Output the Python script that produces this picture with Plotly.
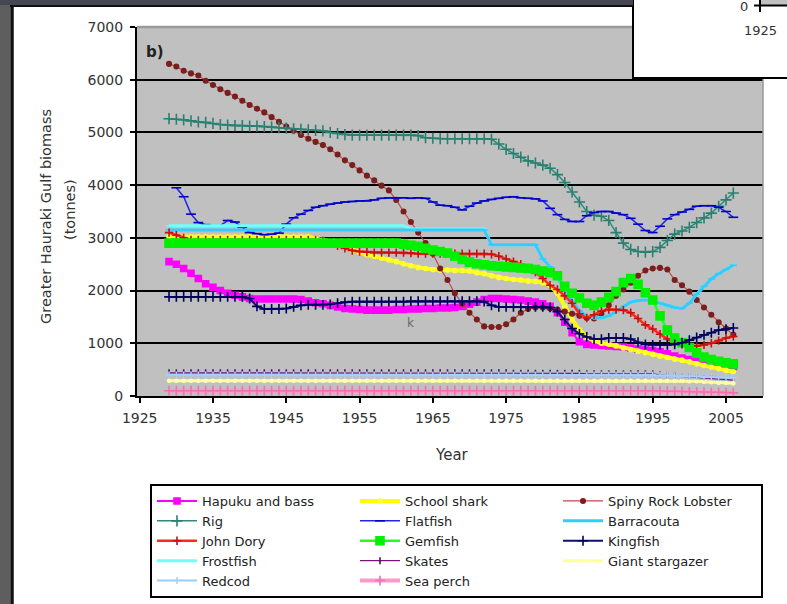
import plotly.graph_objects as go

years = list(range(1929, 2007))

hapuku = [2550, 2500, 2420, 2330, 2230, 2130, 2060, 2000, 1950, 1910,
          1880, 1850, 1840, 1840, 1840, 1840, 1840, 1840, 1830, 1800,
          1770, 1750, 1720, 1690, 1660, 1650, 1640, 1630, 1630, 1630,
          1630, 1640, 1640, 1650, 1650, 1660, 1660, 1670, 1670, 1680,
          1700, 1740, 1780, 1830, 1850, 1850, 1840, 1830, 1820, 1800,
          1780, 1750, 1700, 1580, 1400, 1200, 1030, 980, 970, 960,
          950, 940, 930, 910, 890, 870, 860, 840, 800, 760,
          720, 690, 660, 640, 620, 600, 580, 560]

school_shark = [3020, 3020, 3020, 3020, 3020, 3020, 3020, 3020, 3020, 3020,
                3020, 3020, 3020, 3020, 3020, 3020, 3020, 3020, 3020, 3020,
                2990, 2960, 2920, 2870, 2820, 2770, 2720, 2680, 2650, 2620,
                2580, 2550, 2510, 2470, 2440, 2420, 2400, 2390, 2390, 2380,
                2380, 2370, 2340, 2320, 2280, 2250, 2230, 2210, 2200, 2180,
                2170, 2150, 2100, 1950, 1700, 1450, 1250, 1120, 1050, 1000,
                980, 950, 910, 880, 850, 820, 790, 760, 730, 700,
                680, 650, 610, 580, 550, 520, 490, 460]

lobster = [6300, 6250, 6170, 6120, 6080, 5980, 5900, 5820, 5750, 5680,
           5600, 5520, 5450, 5380, 5290, 5200, 5110, 5030, 4950, 4880,
           4820, 4760, 4680, 4580, 4470, 4380, 4280, 4180, 4090, 3990,
           3900, 3720, 3500, 3300, 3100, 2900, 2700, 2420, 2200, 1950,
           1750, 1580, 1450, 1320, 1310, 1310, 1360, 1450, 1580, 1650,
           1680, 1680, 1660, 1640, 1600, 1560, 1520, 1480, 1470, 1560,
           1720, 1900, 2020, 2150, 2280, 2380, 2420, 2430, 2400, 2200,
           2100, 1980, 1820, 1680, 1540, 1400, 1280, 1160]

rig = [5260, 5250, 5240, 5220, 5200, 5190, 5170, 5150, 5140, 5130,
       5130, 5120, 5120, 5110, 5100, 5090, 5080, 5070, 5060, 5050,
       5040, 5030, 5000, 4980, 4960, 4950, 4950, 4950, 4950, 4950,
       4950, 4950, 4950, 4950, 4940, 4900, 4890, 4880, 4880, 4880,
       4880, 4880, 4880, 4880, 4870, 4780, 4680, 4600, 4530, 4460,
       4420, 4380, 4320, 4200, 4050, 3870, 3680, 3500, 3430, 3410,
       3330, 3100, 2900, 2780, 2740, 2730, 2740, 2820, 2950, 3070,
       3130, 3200, 3290, 3380, 3470, 3600, 3720, 3850]

flatfish = [None, 3950, 3780, 3450, 3290, 3250, 3230, 3230, 3330, 3300,
            3200, 3100, 3080, 3060, 3070, 3090, 3260, 3380, 3450, 3520,
            3580, 3610, 3640, 3660, 3680, 3690, 3700, 3700, 3720, 3750,
            3760, 3760, 3760, 3750, 3760, 3750, 3680, 3620, 3610, 3580,
            3530, 3600, 3660, 3700, 3730, 3750, 3770, 3780, 3760, 3750,
            3740, 3700, 3560, 3440, 3350, 3310, 3310, 3420, 3480, 3500,
            3500, 3470, 3440, 3370, 3260, 3140, 3100, 3220, 3360, 3440,
            3490, 3540, 3600, 3610, 3610, 3580, 3500, 3390]

barracouta = [3150, 3150, 3150, 3150, 3150, 3150, 3150, 3150, 3150, 3150,
              3150, 3150, 3150, 3150, 3150, 3150, 3150, 3150, 3150, 3150,
              3150, 3150, 3150, 3150, 3150, 3150, 3150, 3150, 3150, 3150,
              3150, 3150, 3150, 3150, 3150, 3150, 3150, 3150, 3150, 3150,
              3150, 3150, 3150, 3150, 2870, 2870, 2870, 2870, 2870, 2870,
              2870, 2600, 2450, 2250, 2000, 1800, 1620, 1520, 1480, 1480,
              1520, 1600, 1700, 1780, 1810, 1820, 1800, 1760, 1720, 1680,
              1660, 1760, 1930, 2080, 2220, 2320, 2400, 2480]

john_dory = [3100, 3050, 3000, 2960, 2960, 2960, 2960, 2960, 2960, 2960,
             2960, 2960, 2960, 2960, 2960, 2960, 2960, 2960, 2960, 2960,
             2960, 2940, 2900, 2850, 2800, 2760, 2740, 2730, 2720, 2720,
             2720, 2720, 2720, 2710, 2700, 2700, 2700, 2700, 2700, 2700,
             2700, 2700, 2700, 2700, 2690, 2650, 2600, 2550, 2500, 2430,
             2350, 2230, 2100, 2020, 1900, 1760, 1560, 1480, 1540, 1610,
             1640, 1640, 1630, 1580, 1470, 1350, 1270, 1170, 1080, 1020,
             980, 960, 950, 970, 1000, 1050, 1100, 1130]

gemfish = [2900, 2900, 2900, 2900, 2900, 2900, 2900, 2900, 2900, 2900,
           2900, 2900, 2900, 2900, 2900, 2900, 2900, 2900, 2900, 2900,
           2900, 2900, 2900, 2900, 2900, 2900, 2900, 2900, 2900, 2900,
           2900, 2900, 2880, 2860, 2840, 2800, 2770, 2740, 2710, 2650,
           2590, 2540, 2510, 2490, 2470, 2460, 2450, 2440, 2430, 2420,
           2400, 2370, 2340, 2280, 2080, 1950, 1860, 1760, 1720, 1780,
           1870, 1980, 2150, 2230, 2120, 1960, 1820, 1520, 1250, 1100,
           1010, 920, 820, 740, 690, 660, 630, 610]

kingfish = [1880, 1880, 1880, 1880, 1880, 1880, 1880, 1880, 1880, 1880,
            1880, 1850, 1700, 1650, 1650, 1650, 1660, 1690, 1720, 1730,
            1730, 1730, 1740, 1760, 1780, 1790, 1790, 1790, 1790, 1790,
            1790, 1790, 1790, 1800, 1800, 1800, 1800, 1800, 1800, 1800,
            1800, 1800, 1800, 1790, 1720, 1690, 1690, 1690, 1690, 1690,
            1690, 1690, 1680, 1600, 1450, 1280, 1180, 1120, 1080, 1080,
            1100, 1100, 1100, 1080, 1020, 980, 970, 970, 970, 980,
            1010, 1060, 1110, 1160, 1200, 1250, 1270, 1290]

frostfish = [3230, 3230, 3230, 3230, 3230, 3230, 3230, 3230, 3230, 3230,
             3230, 3230, 3230, 3230, 3230, 3230, 3230, 3230, 3230, 3230,
             3230, 3230, 3230, 3230, 3230, 3230, 3230, 3230, 3230, 3230,
             3230, 3230, 3230, 3170, 3170, 3170, 3170, 3170, 3170, 3170,
             3170, 3170, 3170, 3170, 2870, 2870, 2870, 2870, 2870, 2870,
             2870, 2600, 2450, 2250, 2000, 1800, 1620, 1520, 1480, 1480,
             1520, 1600, 1700, 1780, 1810, 1820, 1800, 1760, 1720, 1680,
             1660, 1760, 1930, 2080, 2220, 2320, 2400, 2480]

skates = [440, 440, 440, 440, 440, 440, 440, 440, 440, 440,
          440, 440, 440, 440, 440, 440, 440, 440, 440, 440,
          440, 440, 440, 440, 440, 440, 440, 440, 440, 440,
          440, 440, 440, 440, 440, 440, 440, 440, 440, 440,
          440, 440, 440, 440, 440, 440, 440, 430, 430, 430,
          430, 430, 430, 430, 430, 430, 430, 420, 420, 420,
          420, 420, 420, 420, 420, 420, 420, 400, 390, 380,
          370, 360, 350, 340, 330, 320, 310, 300]

giant_stargazer = [290, 290, 290, 290, 290, 290, 290, 290, 290, 290,
                   290, 290, 290, 290, 290, 290, 290, 290, 290, 290,
                   290, 290, 290, 290, 290, 290, 290, 290, 290, 290,
                   290, 290, 290, 290, 290, 290, 290, 290, 290, 290,
                   290, 290, 290, 290, 290, 290, 290, 290, 290, 290,
                   290, 290, 290, 290, 290, 290, 290, 290, 290, 290,
                   290, 290, 290, 290, 290, 290, 290, 290, 290, 290,
                   290, 280, 280, 270, 260, 250, 250, 240]

redcod = [400, 400, 400, 400, 400, 400, 400, 400, 400, 400,
          400, 400, 400, 400, 400, 400, 400, 400, 400, 400,
          400, 400, 400, 400, 400, 400, 400, 400, 400, 400,
          400, 400, 400, 400, 400, 400, 400, 400, 400, 400,
          400, 400, 400, 400, 400, 400, 400, 400, 400, 400,
          400, 400, 400, 400, 400, 400, 400, 400, 400, 400,
          400, 400, 400, 400, 400, 400, 400, 390, 390, 380,
          380, 370, 370, 360, 360, 350, 350, 350]

sea_perch = [100, 100, 100, 100, 100, 100, 100, 100, 100, 100,
             100, 100, 100, 100, 100, 100, 100, 100, 100, 100,
             100, 100, 100, 100, 100, 100, 100, 100, 100, 100,
             100, 100, 100, 100, 100, 100, 100, 100, 100, 100,
             100, 100, 100, 100, 100, 100, 100, 100, 100, 100,
             100, 100, 100, 100, 100, 100, 100, 100, 100, 100,
             100, 100, 100, 100, 100, 100, 100, 95, 90, 90,
             85, 80, 80, 75, 70, 70, 65, 60]

x_ticks = [1925, 1935, 1945, 1955, 1965, 1975, 1985, 1995, 2005]
y_ticks = [0, 1000, 2000, 3000, 4000, 5000, 6000, 7000]

# legend order: name, values, line colour, line width, marker symbol, marker size, marker colour
series = [
    ("Hapuku and bass", hapuku, "#FF00FF", 2, "square", 6, "#FF00FF"),
    ("School shark", school_shark, "#FFFF00", 4, "circle", 4, "#FFFF33"),
    ("Spiny Rock Lobster", lobster, "#C04848", 1.2, "circle", 4.5, "#7A1E1E"),
    ("Rig", rig, "#2E8B7E", 1.5, "cross-thin", 8, "#2A8070"),
    ("Flatfish", flatfish, "#2424E8", 1.5, "line-ew", 7, "#0000C8"),
    ("Barracouta", barracouta, "#33CCFF", 3, "line-ew", 5, "#33CCFF"),
    ("John Dory", john_dory, "#FF2A1A", 2.5, "cross-thin", 6, "#C81010"),
    ("Gemfish", gemfish, "#22FF22", 2.5, "square", 8, "#00F000"),
    ("Kingfish", kingfish, "#10106E", 2, "cross-thin", 7, "#000060"),
    ("Frostfish", frostfish, "#70FFFF", 3, "line-ew", 4, "#70FFFF"),
    ("Skates", skates, "#7A147A", 1.2, "line-ns", 5, "#301870"),
    ("Giant stargazer", giant_stargazer, "#FFFF99", 3, "circle", 3, "#FFFFB0"),
    ("Redcod", redcod, "#99CCFF", 2, "cross-thin", 5, "#A8D0FF"),
    ("Sea perch", sea_perch, "#FF99CC", 4, "cross-thin", 7, "#F070B0"),
]
# drawing order (Frostfish underneath Barracouta)
draw_order = ["Hapuku and bass", "School shark", "Spiny Rock Lobster", "Rig", "Flatfish",
              "Frostfish", "Barracouta", "John Dory", "Gemfish", "Kingfish", "Skates",
              "Giant stargazer", "Redcod", "Sea perch"]

fig = go.Figure()
lookup = {s[0]: (i, s) for i, s in enumerate(series)}
for nm in draw_order:
    rank, (name, vals, lc, lw, sym, ms, mc) = lookup[nm]
    fig.add_trace(go.Scatter(
        x=years, y=vals, name=name, mode="lines+markers", legendrank=(rank + 1) * 10,
        line=dict(color=lc, width=lw),
        marker=dict(symbol=sym, size=ms, color=mc,
                    line=dict(color=mc, width=1.6)),
    ))

L, R, T, B = 137, 24, 27, 208
W = 787 - L - R
H = 604 - T - B


def fx(p):
    return (p - L) / W


def fy(p):
    return (604 - B - p) / H


FONT = "DejaVu Sans"
shapes = []
shapes.append(dict(type="line", xref="paper", yref="paper", x0=0, x1=1, y0=1, y1=1,
                   line=dict(color="#9A9A9A", width=2.5), layer="above"))
shapes.append(dict(type="line", xref="paper", yref="paper", x0=1, x1=1, y0=0, y1=1,
                   line=dict(color="#9A9A9A", width=1.5), layer="above"))
shapes.append(dict(type="rect", xref="paper", yref="paper", x0=fx(633), x1=fx(800),
                   y0=fy(78), y1=fy(-10), fillcolor="white",
                   line=dict(color="black", width=2), layer="above"))
shapes.append(dict(type="rect", xref="paper", yref="paper", x0=fx(761), x1=fx(800),
                   y0=fy(5), y1=fy(-10), fillcolor="#C0C0C0",
                   line=dict(width=0), layer="above"))
shapes.append(dict(type="line", xref="paper", yref="paper", x0=fx(754), x1=fx(800),
                   y0=fy(5.5), y1=fy(5.5), line=dict(color="black", width=2), layer="above"))
shapes.append(dict(type="line", xref="paper", yref="paper", x0=fx(760), x1=fx(760),
                   y0=fy(-5), y1=fy(12), line=dict(color="black", width=2), layer="above"))
shapes.append(dict(type="rect", xref="paper", yref="paper", x0=fx(-5), x1=fx(10),
                   y0=fy(610), y1=fy(-5), fillcolor="#5E5E5E",
                   line=dict(width=0), layer="above"))
shapes.append(dict(type="line", xref="paper", yref="paper", x0=fx(12), x1=fx(12),
                   y0=fy(610), y1=fy(-5), line=dict(color="#111111", width=3.5), layer="above"))
shapes.append(dict(type="rect", xref="paper", yref="paper", x0=fx(-5), x1=fx(633),
                   y0=fy(5), y1=fy(-5), fillcolor="#474752",
                   line=dict(width=0), layer="above"))
shapes.append(dict(type="line", xref="paper", yref="paper", x0=fx(10), x1=fx(633),
                   y0=fy(6), y1=fy(6), line=dict(color="#111111", width=2), layer="above"))

annotations = [
    dict(text="Greater Hauraki Gulf biomass", textangle=-90, xref="paper", yref="paper",
         x=fx(46), y=fy(217), showarrow=False, xanchor="center", yanchor="middle",
         font=dict(family=FONT, size=14.5, color="#333333")),
    dict(text="(tonnes)", textangle=-90, xref="paper", yref="paper",
         x=fx(70), y=fy(210), showarrow=False, xanchor="center", yanchor="middle",
         font=dict(family=FONT, size=14.5, color="#333333")),
    dict(text="Year", xref="paper", yref="paper", x=fx(452), y=fy(455),
         showarrow=False, xanchor="center", yanchor="middle",
         font=dict(family=FONT, size=15, color="#333333")),
    dict(text="<b>b)</b>", xref="paper", yref="paper", x=fx(144), y=fy(52),
         showarrow=False, xanchor="left", yanchor="middle",
         font=dict(family=FONT, size=15, color="#222222")),
    dict(text="k", xref="paper", yref="paper", x=fx(410), y=fy(323),
         showarrow=False, xanchor="center", yanchor="middle",
         font=dict(family=FONT, size=12, color="#6A6A6A")),
    dict(text="0", xref="paper", yref="paper", x=fx(744), y=fy(6),
         showarrow=False, xanchor="center", yanchor="middle",
         font=dict(family=FONT, size=13, color="#333333")),
    dict(text="1925", xref="paper", yref="paper", x=fx(760), y=fy(30),
         showarrow=False, xanchor="center", yanchor="middle",
         font=dict(family=FONT, size=13, color="#333333")),
]

fig.update_layout(
    width=787, height=604,
    margin=dict(l=L, r=R, t=T, b=B, pad=0, autoexpand=False),
    paper_bgcolor="white",
    plot_bgcolor="#C0C0C0",
    font=dict(family=FONT, color="#333333"),
    showlegend=True,
    legend=dict(
        orientation="h", x=fx(150), y=fy(484), xanchor="left", yanchor="top",
        bgcolor="white", bordercolor="black", borderwidth=2,
        font=dict(family=FONT, size=13, color="#222222"),
        itemwidth=40, entrywidth=148, entrywidthmode="pixels",
        traceorder="normal", tracegroupgap=0, itemclick=False,
    ),
    shapes=shapes,
    annotations=annotations,
)

fig.update_xaxes(
    range=[1924.63, 2010.05], tickmode="array", tickvals=x_ticks,
    ticktext=[str(t) for t in x_ticks], ticks="outside", ticklen=5,
    tickwidth=2, tickcolor="black", showline=True, linecolor="black", linewidth=2,
    showgrid=False, zeroline=False,
    tickfont=dict(family=FONT, size=14, color="#333333"), ticklabelstandoff=3,
)
fig.update_yaxes(
    range=[0, 7000], tickmode="array", tickvals=y_ticks,
    ticks="outside", ticklen=5, tickwidth=2, tickcolor="black",
    showline=True, linecolor="black", linewidth=2,
    showgrid=True, gridcolor="black", gridwidth=2, zeroline=False,
    tickfont=dict(family=FONT, size=14, color="#333333"), ticklabelstandoff=4,
)

fig.write_html("out.html", config={"displayModeBar": False},
               post_script="document.body.style.margin='0px';")
